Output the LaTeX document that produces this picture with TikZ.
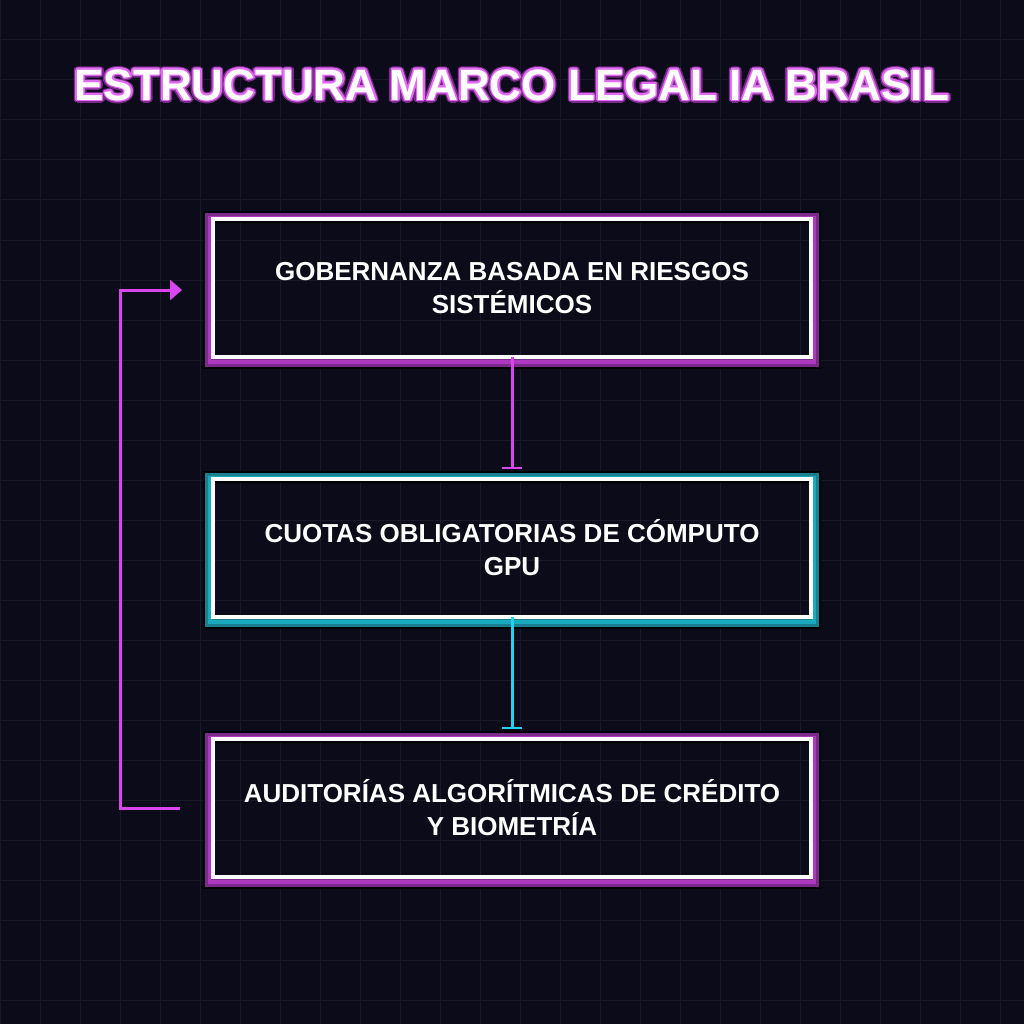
\documentclass[tikz,border=0pt]{standalone}
\usepackage{fontspec}
\setmainfont{Liberation Sans}
\usetikzlibrary{arrows.meta,calc}
\definecolor{bg}{HTML}{0B0B19}
\definecolor{gridc}{HTML}{191929}
\definecolor{mag}{HTML}{D946EF}
\definecolor{cy}{HTML}{22D3EE}
\definecolor{dmag}{HTML}{7A2A8A}
\definecolor{dcy}{HTML}{1A7F8E}
\begin{document}
\begin{tikzpicture}[x=1pt,y=-1pt,
  box/.style={draw=white,line width=4pt,minimum width=598pt,minimum height=138pt,align=center,text=white,font=\bfseries\fontsize{26}{33}\selectfont},
  conn/.style={line width=3pt}]
\fill[bg] (0,0) rectangle (1024,1024);
\useasboundingbox (0,0) rectangle (1024,1024);
\foreach \i in {0,40,...,1000}{
  \draw[gridc,line width=1pt] (\i,0) -- (\i,1024);
  \draw[gridc,line width=1pt] (0,\i) -- (1024,\i);}
% title glow
\foreach \a in {0,22.5,...,359}{
  \node[text=dmag,font=\bfseries\fontsize{44}{50}\selectfont] at ($(512,85)+(\a:3)$) {ESTRUCTURA MARCO LEGAL IA BRASIL};}
\foreach \a in {0,30,...,359}{
  \node[text=mag!80!white,font=\bfseries\fontsize{44}{50}\selectfont] at ($(512,85)+(\a:1.5)$) {ESTRUCTURA MARCO LEGAL IA BRASIL};}
\node[text=white,font=\bfseries\fontsize{44}{50}\selectfont] (title) at (512,85) {ESTRUCTURA MARCO LEGAL IA BRASIL};
% glows
\foreach \y/\c/\d in {290/mag/dmag,550/cy/dcy,810/mag/dmag}{
  \draw[black,line width=12pt] (209,\y-73) rectangle (815,\y+73);
  \draw[\d,line width=8pt] (209,\y-73) rectangle (815,\y+73);
  \draw[\c!80!black,line width=4pt] (210,\y-72) rectangle (814,\y+72);}
\node[box] (a) at (512,288) {GOBERNANZA BASADA EN RIESGOS\\SISTÉMICOS};
\node[box] (b) at (512,548) {CUOTAS OBLIGATORIAS DE CÓMPUTO\\GPU};
\node[box] (c) at (512,808) {AUDITORÍAS ALGORÍTMICAS DE CRÉDITO\\Y BIOMETRÍA};
\draw[conn,mag,-{Bar[width=20pt,line width=2pt]}] ([yshift=2pt]a.south) -- ([yshift=8pt]b.north);
\draw[conn,cy,-{Bar[width=20pt,line width=2pt]}] ([yshift=2pt]b.south) -- ([yshift=8pt]c.north);
\coordinate (s) at (180,808);
\coordinate (e) at (182,290);
\draw[conn,mag,-{Triangle[length=12pt,width=20pt]}] (s) -- (120,808) -- (120,290) -- (e);
\end{tikzpicture}
\end{document}
